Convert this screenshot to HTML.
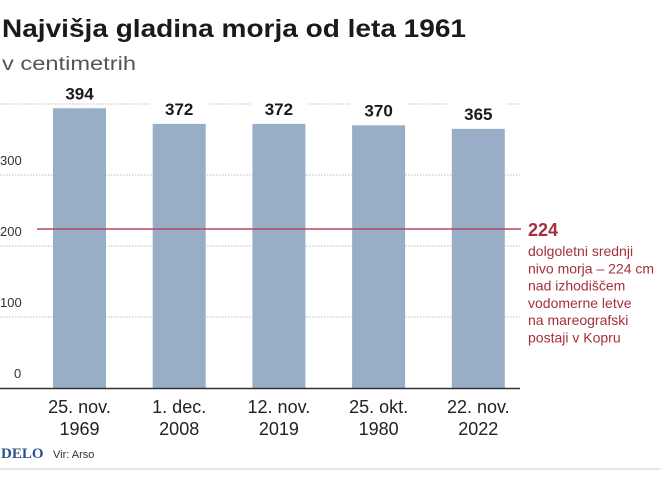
<!DOCTYPE html>
<html><head><meta charset="utf-8"><style>
body{margin:0;background:#fff;width:660px;height:472px;overflow:hidden;font-family:"Liberation Sans",sans-serif}
</style></head><body>
<svg width="660" height="472">
<text x="2" y="37" font-size="25" font-weight="bold" fill="#1a1a1a" textLength="464" lengthAdjust="spacingAndGlyphs">Najvišja gladina morja od leta 1961</text>
<text x="2" y="70" font-size="19" fill="#555" textLength="134" lengthAdjust="spacingAndGlyphs">v centimetrih</text>
<g id="grid"></g><g id="bars"></g>
<g id="ann"></g>
<text x="1" y="458" font-family="Liberation Serif,serif" font-weight="bold" font-size="15" fill="#2f5189">DELO</text>
<text x="53" y="458" font-size="11" fill="#333">Vir: Arso</text>
<line x1="0" y1="469" x2="660" y2="469" stroke="#ccc" stroke-width="1"/>
</svg>
<script>
const categories1=["25. nov.","1. dec.","12. nov.","25. okt.","22. nov."];
const categories2=["1969","2008","2019","1980","2022"];
const values=[394,372,372,370,365];
const ticks=[0,100,200,300,400];
const refValue=224;
const ns="http://www.w3.org/2000/svg";
const y=v=>388-v*0.71;
const x=i=>53+i*99.7;
const bw=53;
function mk(t,a,p){const e=document.createElementNS(ns,t);for(const k in a)e.setAttribute(k,a[k]);p.appendChild(e);return e;}
const g=document.getElementById('grid'),b=document.getElementById('bars'),an=document.getElementById('ann');
ticks.forEach(t=>{
  if(t>0){const l=mk('line',{x1:0,x2:520,y1:y(t),y2:y(t),stroke:'#bbb','stroke-dasharray':'1.5,1.5'},g);
  
  }
  if(t<400){const tx=mk('text',{x:t===0?14:0,y:y(t)-10,'font-size':13,fill:'#333'},g);tx.textContent=t;
  
  }
});
values.forEach((v,i)=>{
  const r=mk('rect',{x:x(i),y:y(v),width:bw,height:388-y(v),fill:'#98aec6'},b);
  
  
  const bg=mk('rect',{x:x(i)-2,y:y(v)-26,width:bw+4,height:20,fill:'#fff'},b);
  
  
  const t=mk('text',{x:x(i)+bw/2,y:y(v)-9,'font-size':17,'font-weight':'bold','text-anchor':'middle',fill:'#1a1a1a'},b);t.textContent=v;
  
  
  const c1=mk('text',{x:x(i)+bw/2,y:413,'font-size':18,'text-anchor':'middle',fill:'#222'},b);c1.textContent=categories1[i];
  
  
  const c2=mk('text',{x:x(i)+bw/2,y:435,'font-size':18,'text-anchor':'middle',fill:'#222'},b);c2.textContent=categories2[i];
  
  
});
const base=mk('line',{x1:0,x2:520,y1:388.5,y2:388.5,stroke:'#333','stroke-width':1.5},b);


const rl=mk('line',{x1:37,x2:521,y1:y(refValue),y2:y(refValue),stroke:'#b04a5e','stroke-width':1.5},an);


const rv=mk('text',{x:528,y:y(refValue)+7,'font-size':18,'font-weight':'bold',fill:'#a3303f'},an);rv.textContent=refValue;


["dolgoletni srednji","nivo morja – 224 cm","nad izhodiščem","vodomerne letve","na mareografski","postaji v Kopru"].forEach((s,i)=>{
  const t=mk('text',{x:528,y:256+i*17.3,'font-size':14,fill:'#a3303f'},an);t.textContent=s;
  
  
});
</script>
</body></html>
